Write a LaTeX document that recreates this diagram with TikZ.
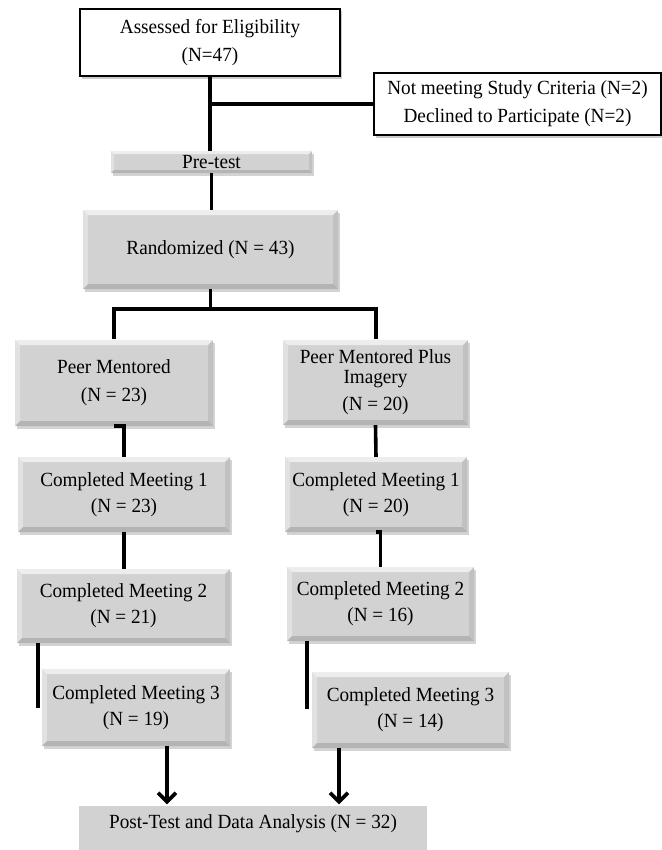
\documentclass[tikz,border=0pt]{standalone}
\usepackage{fontspec}
\setmainfont{Liberation Serif}[FakeStretch=0.955]
\usetikzlibrary{shadows,arrows.meta,calc}
\definecolor{boxgray}{RGB}{210,210,210}
\tikzset{
  bev/.style={path picture={
    \fill[white,opacity=0.6] (path picture bounding box.north west) -- (path picture bounding box.north east)
      -- ([shift={(-#1,-#1)}]path picture bounding box.north east) -- ([shift={(#1,-#1)}]path picture bounding box.north west) -- cycle;
    \fill[white,opacity=0.35] (path picture bounding box.north west) -- (path picture bounding box.south west)
      -- ([shift={(#1,#1)}]path picture bounding box.south west) -- ([shift={(#1,-#1)}]path picture bounding box.north west) -- cycle;
    \fill[black,opacity=0.08] (path picture bounding box.north east) -- (path picture bounding box.south east)
      -- ([shift={(-#1,#1)}]path picture bounding box.south east) -- ([shift={(-#1,-#1)}]path picture bounding box.north east) -- cycle;
    \fill[black,opacity=0.14] (path picture bounding box.south west) -- (path picture bounding box.south east)
      -- ([shift={(-#1,#1)}]path picture bounding box.south east) -- ([shift={(#1,#1)}]path picture bounding box.south west) -- cycle;
  }},
  bev/.default=5bp,
}
\begin{document}
\begin{tikzpicture}[x=1bp,y=-1bp,
  every node/.style={font=\fontsize{20.1bp}{20bp}\selectfont, align=center, inner sep=0pt},
  wbox/.style={draw=black, line width=1.6bp, fill=white,
    drop shadow={shadow xshift=2bp,shadow yshift=-2.5bp,opacity=0.4}},
  gbox/.style={fill=boxgray, bev,
    drop shadow={shadow xshift=2bp,shadow yshift=-2.5bp,opacity=0.35}},
  conn/.style={line width=3.6bp},
  arr/.style={line width=3.6bp, -{Straight Barb[length=9bp,width=18bp]}},
]
\useasboundingbox (0,0) rectangle (662,850);

\node[wbox, minimum width=260bp, minimum height=67bp] (assess) at (210,42.5) {Assessed for Eligibility\\[8bp](N=47)};
\node[wbox, minimum width=287bp, minimum height=62bp] (crit) at (517.5,104) {Not meeting Study Criteria (N=2)\\[8bp]Declined to Participate (N=2)};
\node[gbox, bev=3bp, minimum width=201bp, minimum height=22bp] (pre) at (211.5,162) {Pre-test};
\node[gbox, minimum width=255bp, minimum height=79bp] (rand) at (210.5,249.5) {Randomized (N = 43)};
\node[gbox, minimum width=198bp, minimum height=86bp] (pm) at (114,383) {Peer Mentored\\[8bp](N = 23)};
\node[gbox, minimum width=185bp, minimum height=85bp] (pmpi) at (375.5,382.5) {Peer Mentored Plus\\Imagery\\[7bp](N = 20)};
\node[gbox, minimum width=212bp, minimum height=75bp] (cm1l) at (124,494.5) {Completed Meeting 1\\[6bp](N = 23)};
\node[gbox, minimum width=182bp, minimum height=75bp] (cm1r) at (376,494.5) {Completed Meeting 1\\[6bp](N = 20)};
\node[gbox, minimum width=213bp, minimum height=74bp] (cm2l) at (123.5,606) {Completed Meeting 2\\[6bp](N = 21)};
\node[gbox, minimum width=187bp, minimum height=74bp] (cm2r) at (380.5,604) {Completed Meeting 2\\[6bp](N = 16)};
\node[gbox, minimum width=188bp, minimum height=77bp] (cm3l) at (136,707.5) {Completed Meeting 3\\[6bp](N = 19)};
\node[gbox, minimum width=197bp, minimum height=76bp] (cm3r) at (410.5,710) {Completed Meeting 3\\[6bp](N = 14)};
\node[fill=boxgray, minimum width=348bp, minimum height=36bp] (post) at (253,824) {Post-Test and Data Analysis (N = 32)};
\fill[boxgray] (post.south west) rectangle ([yshift=-9bp]post.south east);

% connectors
\draw[conn] (assess.south) -- (assess.south |- pre.north);
\draw[conn] (assess.south |- crit.west) -- (crit.west);
\draw[conn] (pre.south) -- (pre.south |- rand.north);
\coordinate (split) at (210.5,309);
\draw[conn] (rand.south) -- (split);
\coordinate (pmtop) at (114,339);
\coordinate (pmpitop) at (376,339);
\draw[conn] (pmtop) |- (split) -| (pmpitop);
\draw[conn] (pm.south) -| (cm1l.north);
\draw[conn] (pmpi.south) -- (cm1r.north);
\draw[conn] (cm1l.south) -- (cm1l.south |- cm2l.north);
\draw[conn] (cm1r.south) -| (cm2r.north);
\coordinate (e3l) at (38,708);
\coordinate (e3r) at (307,709);
\draw[conn] (e3l |- cm2l.south) -- (e3l);
\draw[conn] (e3r |- cm2r.south) -- (e3r);
\coordinate (a1) at (167,0);
\coordinate (a2) at (339,0);
\draw[arr] (a1 |- cm3l.south) -- ([yshift=1.5bp]a1 |- post.north);
\draw[arr] (a2 |- cm3r.south) -- ([yshift=1.5bp]a2 |- post.north);
\end{tikzpicture}
\end{document}
